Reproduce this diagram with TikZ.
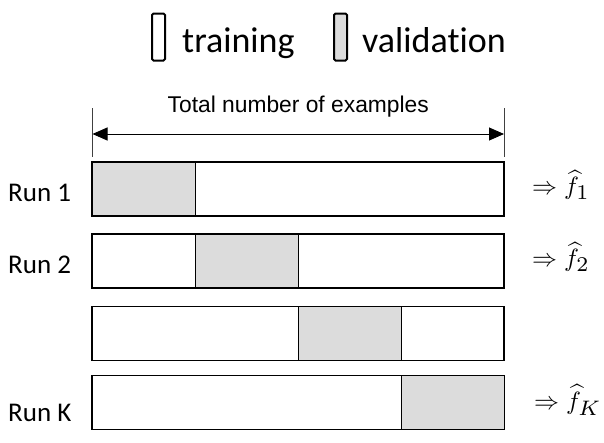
\documentclass[tikz,border=0pt]{standalone}
\usepackage{fontspec}
\setmainfont{Carlito}[Ligatures=NoCommon]
\newfontfamily\arialfont{Liberation Sans}
\usetikzlibrary{arrows.meta}
\definecolor{valgrey}{RGB}{220,220,220}
\tikzset{
  rowbox/.style={draw=black, line width=1.6pt, fill=white, minimum width=412pt, minimum height=54pt, inner sep=0pt, outer sep=0pt},
  valcell/.style={draw=black, line width=1.6pt, fill=valgrey, minimum width=103pt, minimum height=54pt, inner sep=0pt, outer sep=0pt},
  runlabel/.style={anchor=base west, inner sep=0pt, font=\fontsize{27}{30}\selectfont},
  fhat/.style={anchor=west, inner sep=0pt},
  legendbox/.style={draw=black, line width=2pt, rounded corners=1.5pt, minimum width=13pt, minimum height=47pt, inner sep=0pt},
  legendtext/.style={anchor=base west, inner sep=0pt, font=\fontsize{36}{40}\selectfont},
  tick/.style={draw=black!75, line width=0.9pt},
}
\newcommand{\bigmath}[1]{\scalebox{2.5}{$\Rightarrow \widehat{f}_{\scalebox{1.2}{$\scriptstyle #1$}}$}}
\begin{document}
\begin{tikzpicture}[x=1pt, y=-1pt]
\useasboundingbox (0,0) rectangle (604,442);
% legend
\node[legendbox, fill=white] (lt) at (158.5,37) {};
\node[legendtext] (ltt) at (182,52) {training};
\node[legendbox, fill=valgrey] (lv) at (340.5,37) {};
\node[legendtext] (lvt) at (362,52) {validation};
% axis
\coordinate (tl1) at (92.5,108);
\coordinate (tl2) at (92.5,157);
\coordinate (tr1) at (504,108);
\coordinate (tr2) at (504,157);
\draw[tick] (tl1) -- (tl2);
\draw[tick] (tr1) -- (tr2);
\coordinate (al) at (92.5,134);
\coordinate (ar) at (504,134);
\draw[line width=0.9pt, {Triangle[length=15pt,width=13pt]}-{Triangle[length=15pt,width=13pt]}] (al) -- (ar);
\node[anchor=base, inner sep=0pt, font=\arialfont\fontsize{22.8}{26}\selectfont] (total) at (298.25,112) {Total number of examples};
% rows
\foreach \r/\y/\v in {1/189/1, 2/261/2, 3/333.5/3, 4/402.5/4}{
  \node[rowbox] (row\r) at (298.25,\y) {};
  \pgfmathsetmacro{\xc}{92.5+103*(\v-0.5)}
  \node[valcell] (val\r) at (\xc,\y) {};
}
% labels
\node[runlabel] (run1) at (8,201) {Run 1};
\node[runlabel] (run2) at (8,273) {Run 2};
\node[runlabel] (runk) at (8,421) {Run K};
\node[fhat] (f1) at (532,185) {\bigmath{1}};
\node[fhat] (f2) at (532,257) {\bigmath{2}};
\node[fhat] (fk) at (534,400) {\bigmath{K}};
\end{tikzpicture}
\end{document}
